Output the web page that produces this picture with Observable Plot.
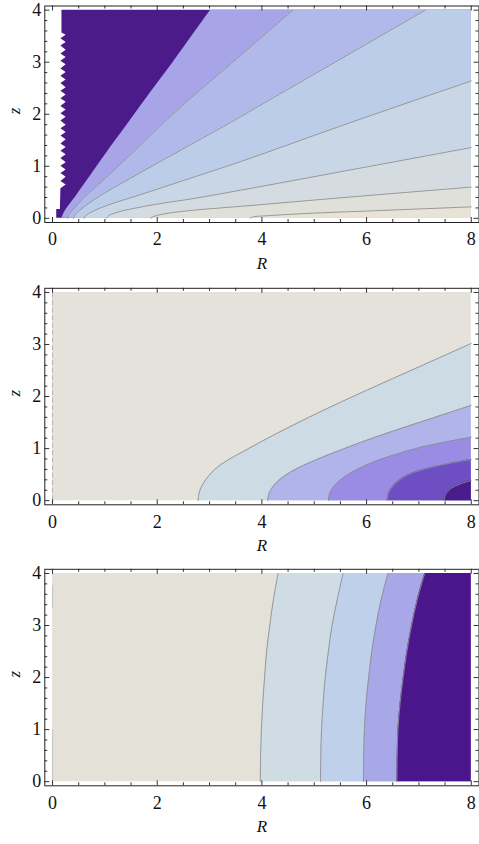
<!DOCTYPE html>
<html><head><meta charset="utf-8">
<script src="https://cdn.jsdelivr.net/npm/d3@7"></script>
<script src="https://cdn.jsdelivr.net/npm/@observablehq/plot@0.6"></script>
<style>
body{margin:0;background:#fff;}
svg{display:block;}
</style></head><body>
<div id="c"></div>
<script>
// ---------- axes ----------
const Rmax = 8, Zmax = 4;
const majorR = [0, 2, 4, 6, 8];
const minorR = [0.5, 1, 1.5, 2.5, 3, 3.5, 4.5, 5, 5.5, 6.5, 7, 7.5];
const majorZ = [0, 1, 2, 3, 4];
const minorZ = [0.2, 0.4, 0.6, 0.8, 1.2, 1.4, 1.6, 1.8, 2.2, 2.4, 2.6, 2.8, 3.2, 3.4, 3.6, 3.8];
const xLabel = "R", yLabel = "z";

// ---------- panel 1 (contours fanning out from the axis) ----------
// jagged left edge of the dark region, top -> bottom, [R, z]
const p1LeftEdge = [[0.18,4],[0.18,3.56],[0.26,3.52],[0.16,3.45],[0.26,3.38],[0.16,3.31],[0.26,3.23],[0.16,3.16],[0.26,3.09],[0.16,3.02],[0.26,2.95],[0.16,2.87],[0.26,2.8],[0.16,2.73],[0.26,2.66],[0.16,2.59],[0.26,2.51],[0.16,2.44],[0.26,2.37],[0.16,2.3],[0.26,2.23],[0.16,2.15],[0.26,2.08],[0.16,2.01],[0.26,1.94],[0.16,1.87],[0.26,1.79],[0.16,1.72],[0.26,1.65],[0.16,1.58],[0.26,1.51],[0.16,1.43],[0.26,1.36],[0.16,1.29],[0.26,1.22],[0.16,1.15],[0.26,1.07],[0.16,1.0],[0.26,0.93],[0.16,0.86],[0.26,0.79],[0.16,0.71],[0.26,0.64],[0.16,0.57],[0.15,0.17],[0.08,0.17],[0.08,0]];
// dark-region boundary and contour lines, bottom -> end, [R, z]
const p1Dark = [[0.18,0],[0.22,0.1],[0.32,0.25],[0.48,0.47],[0.75,0.85],[1.1,1.35],[1.5,1.9],[1.9,2.45],[2.3,2.99],[2.7,3.55],[3.02,4]];
const p1L2 = [[0.29,0],[0.31,0.07],[0.4,0.18],[0.62,0.42],[1.04,0.8],[1.68,1.41],[2.38,2.08],[3.59,3.13],[4.59,4]];
const p1L3 = [[0.4,0],[0.43,0.07],[0.56,0.19],[0.9,0.43],[1.4,0.72],[2.0,1.06],[2.63,1.41],[3.59,1.95],[3.81,2.08],[5.5,3.06],[7.12,4]];
const p1L4 = [[0.6,0],[0.64,0.06],[0.8,0.15],[1.1,0.27],[1.6,0.43],[2.63,0.77],[3.59,1.09],[5.69,1.84],[8,2.64]];
const p1L5 = [[1.03,0],[1.07,0.05],[1.25,0.12],[1.6,0.2],[2.1,0.29],[2.63,0.37],[3.59,0.54],[5.69,0.93],[8,1.36]];
const p1L6 = [[1.87,0],[1.92,0.03],[2.1,0.08],[2.63,0.15],[3.59,0.23],[5.69,0.41],[8,0.6]];
const p1L7 = [[3.77,0],[3.82,0.025],[4.1,0.05],[5.0,0.1],[6.0,0.14],[8,0.22]];
const p1Lines = [p1L2, p1L3, p1L4, p1L5, p1L6, p1L7];
// colours: dark region, then the band to the right of each boundary
const p1DarkColor = "#4b1b8a";
const p1BandColors = ["#a7a4e8", "#b1b8ea", "#bccdea", "#c8d6e6", "#d4dce1", "#dfe0da", "#e8e3d7"]; // right of dark, L2..L7

// ---------- panel 2 (contours near the lower right) ----------
const p2A = [[2.78,0],[2.8,0.15],[2.89,0.35],[3.1,0.6],[3.35,0.78],[3.6,0.92],[4.3,1.3],[5.1,1.7],[6.0,2.12],[7.0,2.57],[8,3.02]];
const p2B = [[4.11,0],[4.14,0.15],[4.28,0.35],[4.55,0.55],[4.8,0.68],[5.12,0.82],[6.0,1.16],[7.0,1.5],[8,1.83]];
const p2C = [[5.27,0],[5.3,0.15],[5.42,0.32],[5.68,0.52],[6.1,0.73],[6.6,0.9],[7.1,1.04],[8,1.22]];
const p2D = [[6.39,0],[6.42,0.15],[6.55,0.33],[6.8,0.5],[7.2,0.63],[7.6,0.72],[8,0.79]];
const p2E = [[7.48,0],[7.51,0.12],[7.62,0.24],[7.79,0.32],[8,0.39]];
const p2Lines = [p2A, p2B, p2C, p2D, p2E];
const p2Base = "#e4e2db";
const p2BandColors = ["#cddce4", "#b1b4ea", "#9a8ce4", "#6d4fc3", "#4a1b8b"];
const p2EdgeMarks = [[0, 4]];

// ---------- panel 3 (near-vertical contours) ----------
const p3A = [[3.97,0],[3.975,0.5],[3.99,1],[4.015,1.5],[4.05,2],[4.09,2.5],[4.15,3],[4.22,3.5],[4.31,4]];
const p3B = [[5.12,0],[5.125,0.5],[5.14,1],[5.17,1.5],[5.21,2],[5.27,2.5],[5.34,3],[5.44,3.5],[5.55,4]];
const p3C = [[5.94,0],[5.945,0.5],[5.96,1],[5.99,1.5],[6.04,2],[6.1,2.5],[6.18,3],[6.28,3.5],[6.41,4]];
const p3D = [[6.58,0],[6.585,0.5],[6.6,1],[6.64,1.5],[6.7,2],[6.77,2.5],[6.86,3],[6.97,3.5],[7.11,4]];
const p3Lines = [p3A, p3B, p3C, p3D];
const p3Base = "#e4e1d8";
const p3BandColors = ["#cfdce3", "#bed0ea", "#a8a8e8", "#4b158b"];
const p3EdgeMarks = [[3.32, 3.77], [0, 0.99]];

// ---------- helpers ----------
const lineColor = "#8e8e8e";
const tickColor = "#333";
const FONT = "'Liberation Serif', 'Times New Roman', serif";
const ML = 44.3, MR = 0.5, WIDTH = 479;
const CURVE = "catmull-rom";
// region to the right of a boundary (boundary given bottom -> top)
const rightOf = (pts, fill, curve = CURVE) =>
  Plot.areaX(pts, {y: d => d[1], x1: d => d[0], x2: Rmax, fill, curve});
const fullRect = (fill) => Plot.areaX([0, Zmax], {y: d => d, x1: 0, x2: Rmax, fill});
const contour = (pts) => Plot.line(pts, {x: d => d[0], y: d => d[1], stroke: lineColor, strokeWidth: 0.9, curve: CURVE});

function frameMarks(H) {
  const W = WIDTH - ML - MR;
  return [
    Plot.ruleX(majorR, {x: d => d, stroke: tickColor, insetTop: H - 5}),
    Plot.ruleX(minorR, {x: d => d, stroke: tickColor, insetTop: H - 3}),
    Plot.ruleX(majorR, {x: d => d, stroke: tickColor, insetBottom: H - 5}),
    Plot.ruleX(minorR, {x: d => d, stroke: tickColor, insetBottom: H - 3}),
    Plot.ruleY(majorZ, {y: d => d, stroke: tickColor, insetRight: W - 5}),
    Plot.ruleY(minorZ, {y: d => d, stroke: tickColor, insetRight: W - 3}),
    Plot.ruleY(majorZ, {y: d => d, stroke: tickColor, insetLeft: W - 5}),
    Plot.ruleY(minorZ, {y: d => d, stroke: tickColor, insetLeft: W - 3}),
    Plot.frame({stroke: "#222", strokeWidth: 1}),
    Plot.axisX({anchor: "bottom", ticks: majorR, tickSize: 0, tickPadding: 10, label: null, tickFormat: d => String(d), fontSize: 18, fontFamily: FONT}),
    Plot.axisY({anchor: "left", ticks: majorZ, tickSize: 0, tickPadding: 3.5, label: null, tickFormat: d => String(d), fontSize: 18, fontFamily: FONT}),
    Plot.text([xLabel], {text: d => d, frameAnchor: "bottom", dy: 46, fontStyle: "italic", fontSize: 17, fontFamily: FONT}),
    Plot.text([yLabel], {text: d => d, frameAnchor: "left", dx: -30, rotate: -90, fontStyle: "italic", fontSize: 17, fontFamily: FONT})
  ];
}

function makePlot(height, marginTop, marginBottom, marks) {
  const H = height - marginTop - marginBottom;
  return Plot.plot({
    width: WIDTH, height, marginTop, marginBottom, marginLeft: ML, marginRight: MR,
    x: {domain: [-0.148, 8.148]},
    y: {domain: [-0.08, 4.08]},
    style: {fontFamily: FONT, fontSize: "18px", background: "white", color: "#111", overflow: "visible"},
    marks: [...marks, ...frameMarks(H)]
  });
}

// ---------- panel 1 ----------
const p1Marks = [rightOf(p1LeftEdge, p1DarkColor, "linear")];
[p1Dark, ...p1Lines].forEach((L, k) => p1Marks.push(rightOf(L, p1BandColors[k])));
p1Lines.forEach(L => p1Marks.push(contour(L)));

// ---------- panel 2 ----------
const p2Marks = [fullRect(p2Base)];
p2Lines.forEach((L, k) => p2Marks.push(rightOf(L, p2BandColors[k])));
p2Lines.forEach(L => p2Marks.push(contour(L)));
p2Marks.push(Plot.ruleX(p2EdgeMarks, {x: 0, y1: d => d[0], y2: d => d[1], stroke: "#b5b5b5", strokeDasharray: "5,2.5"}));

// ---------- panel 3 ----------
const p3Marks = [fullRect(p3Base)];
p3Lines.forEach((L, k) => p3Marks.push(rightOf(L, p3BandColors[k])));
p3Lines.forEach(L => p3Marks.push(contour(L)));
p3Marks.push(Plot.ruleX(p3EdgeMarks, {x: 0, y1: d => d[0], y2: d => d[1], stroke: "#c4c4c4"}));

const c = document.getElementById("c");
c.append(makePlot(282, 5.5, 60, p1Marks));
c.append(makePlot(282, 5.8, 59.7, p2Marks));
c.append(makePlot(280, 4.8, 58.7, p3Marks));
</script>
</body></html>
